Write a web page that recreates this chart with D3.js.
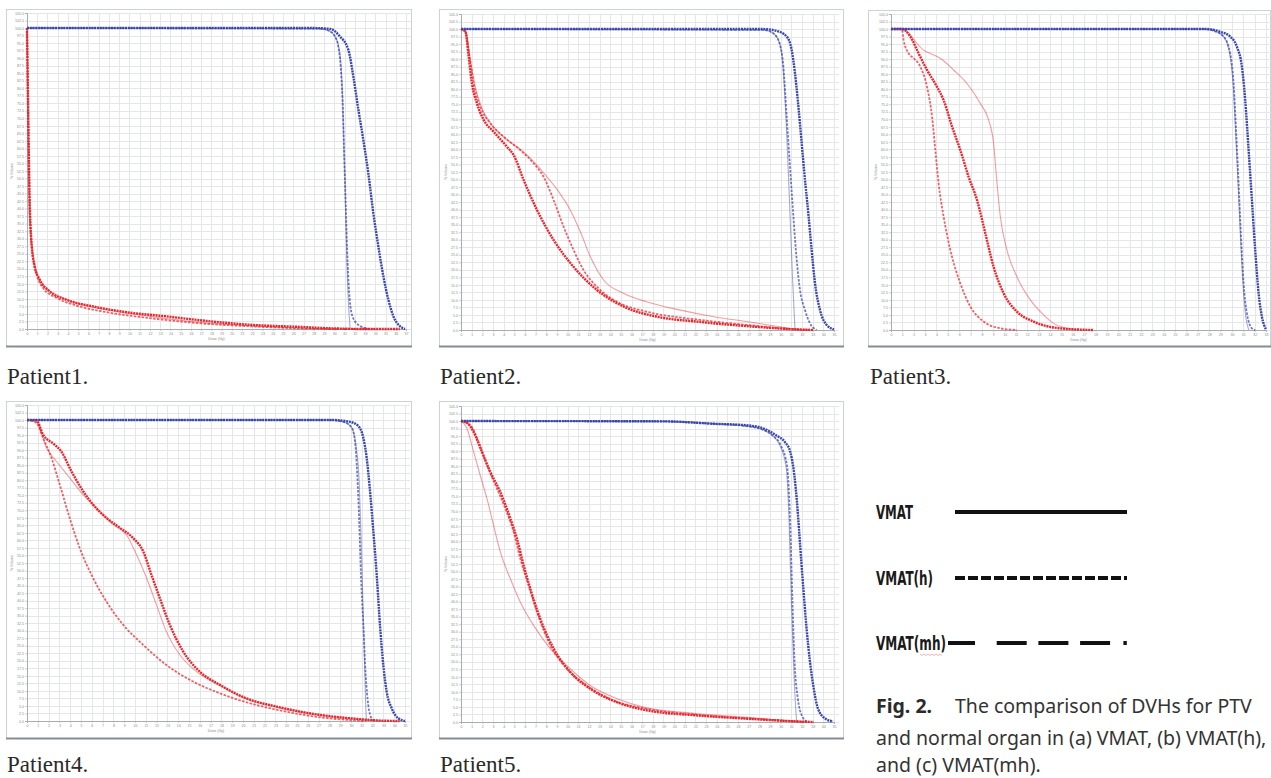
<!DOCTYPE html>
<html>
<head>
<meta charset="utf-8">
<script src="https://cdn.jsdelivr.net/npm/d3@7"></script>
<style>
  body { margin: 0; background: #fff; }
</style>
</head>
<body>
<script>
// DVH comparison, five patients: dose (Gy) vs % volume for PTV (blue) and normal organ (red)
var patients = ["Patient1.", "Patient2.", "Patient3.", "Patient4.", "Patient5."];
var doseMax = [37, 35, 33, 35, 35];
var plans = ["VMAT", "VMAT(h)", "VMAT(mh)"];
var yTicks = d3.range(0, 105.1, 2.5);

// patient 1
var p1PtvVmat = [[0,100],[28,100],[29.6,99.7],[30.55,97.2],[31.37,92.8],[31.86,83.9],[32.35,72.9],[32.83,62.9],[33.32,51.8],[33.81,38.5],[34.3,27.5],[34.79,17.5],[35.28,9.7],[35.77,4.2],[36.42,0.9],[36.9,0]];
var p1PtvH = [[0,100],[28.6,99.8],[29.58,98.9],[30.07,97.2],[30.39,93.9],[30.62,87.3],[30.8,76.2],[30.95,59.6],[31.1,43],[31.3,22],[31.5,10],[31.8,4],[32.5,1],[33.5,0]];
var p1PtvMh = [[0,100],[28.6,99.8],[29.58,98.9],[30.07,97.2],[30.42,93.9],[30.66,87.3],[30.82,76.2],[30.95,59.6],[31.08,43],[31.24,20.8],[31.4,7.5],[31.55,0]];
var p1OarVmat = [[0,100],[0.1,76.2],[0.26,43],[0.42,29.7],[0.75,20.8],[1.24,16.4],[2.21,12.5],[3.84,9.7],[6.45,7.5],[10.36,5.3],[13.6,4.2],[16.9,2.9],[21.8,1.4],[26.6,0.7],[29.9,0.2],[33.2,0],[36.4,0]];
var p1OarH = [[0,100],[0.1,73],[0.26,38],[0.5,26],[0.95,18],[1.6,13.5],[2.9,10.3],[4.8,7.8],[7.75,5.6],[12,3.6],[16.9,1.9],[21.8,0.9],[26.6,0.2],[30,0],[34,0]];
var p1OarMh = [[0,100],[0.1,74],[0.26,39.6],[0.49,27.5],[0.91,19.2],[1.56,14.7],[2.87,11.4],[4.82,8.6],[7.75,6.4],[12,4.2],[16.9,2.2],[21.8,1.1],[26.6,0.3],[29.9,0]];

// patient 2
var p2PtvVmat = [[0,100],[28.4,100],[29.6,99.4],[30.56,97.5],[31.03,93],[31.34,85.3],[31.66,74.2],[31.97,62],[32.28,49.8],[32.59,38.8],[32.9,26.6],[33.22,15.5],[33.69,6.6],[34.31,1.7],[35,0.2]];
var p2PtvH = [[0,100],[28.4,99.7],[29.3,98.6],[29.9,95.2],[30.25,87.5],[30.56,70.9],[30.87,54.3],[31.19,37.7],[31.5,23.3],[31.81,13.3],[32.28,6.6],[32.75,2.2],[33.37,0]];
var p2PtvMh = [[0,100],[28.4,99.7],[29.3,98.6],[29.9,95.2],[30.2,88],[30.5,70],[30.8,45],[31.1,18],[31.34,0]];
var p2OarVmat = [[0,100],[0.41,99.1],[0.72,90.8],[1.03,81.9],[1.5,75.3],[2.13,69.8],[3.06,65.9],[4.31,60.9],[4.94,58.1],[5.88,49.8],[7.13,39.9],[8.69,29.9],[10.56,21],[12.75,13.3],[15.25,7.8],[18.4,4.4],[22.1,2.8],[26.8,1.3],[31.5,0.2],[33.1,0]];
var p2OarH = [[0,100],[0.41,99.3],[0.81,90.8],[1.19,81.9],[1.81,74.2],[2.75,68.7],[4,64.2],[5.56,59.8],[6.81,55.4],[7.75,50.9],[8.69,43.2],[9.63,34.3],[10.56,26.6],[11.5,19.9],[12.75,14.4],[14.63,9.4],[17.4,6.1],[22.1,3.5],[26.8,1.7],[31.5,0.2],[32.75,0]];
var p2OarMh = [[0,100],[0.41,99.3],[0.88,89.7],[1.34,80.8],[1.97,73.6],[2.91,68.1],[4.16,63.7],[5.72,59.6],[6.97,55.4],[8.06,50.9],[9.16,46],[10.25,39.9],[11.19,32.7],[12.13,24.4],[13.38,16.6],[15.25,12.2],[17.4,9.4],[20.6,6.6],[23.7,4.4],[26.8,2.8],[29.9,1.1],[31.5,0.2],[32.1,0]];

// patient 3
var p3PtvVmat = [[0,100],[27.8,100],[28.97,99.1],[29.85,97.5],[30.44,94.1],[30.88,87.5],[31.17,76.4],[31.47,59.8],[31.76,43.2],[32.05,26.6],[32.35,12.2],[32.64,4.4],[33,0.2]];
var p3PtvH = [[0,100],[27.5,100],[28.39,99.4],[29.27,97.5],[29.85,91.9],[30.15,81.9],[30.38,65.3],[30.59,48.7],[30.79,32.1],[31.03,15.5],[31.32,5.5],[31.76,0.55],[32.05,0]];
var p3PtvMh = [[0,100],[27.5,100],[28.39,99.4],[29.27,97.5],[29.8,91.9],[30.1,81.9],[30.33,65.3],[30.54,48.7],[30.74,32.1],[30.97,15.5],[31.2,5],[31.5,0]];
var p3OarVmat = [[0,100],[0.97,100],[1.7,97.5],[2.43,91.9],[3.17,86.4],[4.05,80.8],[4.63,76.4],[5.37,67.6],[6.1,59.8],[6.83,50.9],[7.57,43.2],[8.3,32.1],[9.03,21],[9.91,12.2],[11.08,6.1],[12.55,2.8],[14.9,0.55],[17.8,0]];
var p3OarH = [[0,100],[0.8,100],[0.97,99.7],[1.11,96.3],[1.55,91.9],[2,90.3],[2.58,87.5],[3.17,80.8],[3.61,70.9],[3.9,59.8],[4.19,48.7],[4.63,37.7],[5.22,26.6],[6.1,15.5],[6.98,7.8],[8.15,2.8],[9.62,0.55],[11.1,0]];
var p3OarMh = [[0,100],[0.97,100],[1.7,98.1],[2.29,95.2],[2.87,93],[3.46,91.9],[4.34,90.3],[5.51,86.4],[6.69,81.9],[7.86,75.3],[8.59,69.8],[9.03,62],[9.33,48.7],[9.62,37.7],[10.2,26.6],[11.08,17.7],[12.26,10],[13.43,5],[14.3,2.2],[15.5,0.55],[16.4,0]];

// patient 4
var p4PtvVmat = [[0,100],[28.36,100],[29.9,99.4],[30.68,98],[31.14,94.1],[31.45,87.5],[31.76,76.4],[32.07,63],[32.38,48.6],[32.68,32],[32.99,18.6],[33.3,9.8],[33.77,4.2],[34.38,0.9],[35,0]];
var p4PtvH = [[0,100],[28,100],[29.29,99.4],[30.06,97.5],[30.37,93],[30.58,81.9],[30.77,65.3],[30.92,48.6],[31.14,32],[31.36,15.3],[31.6,5.3],[31.91,0.9],[32.22,0]];
var p4PtvMh = [[0,100],[28,100],[29.29,99.4],[30.06,97.5],[30.4,93],[30.75,80],[30.95,60],[31.1,40],[31.25,20],[31.4,2],[31.45,0]];
var p4OarVmat = [[0,100],[0.86,99.9],[1.48,95.2],[2.53,91.9],[3.15,89.7],[4.11,83],[5.19,76.4],[6.12,71.9],[7.35,67.5],[8.59,64.2],[9.82,60.8],[10.75,56.4],[11.52,48.6],[12.3,40.8],[13.22,32],[14.46,23.1],[16,16.4],[17.86,12],[20.33,7.5],[23.1,4.8],[26.8,2.2],[29.9,0.9],[33,0.1],[34.5,0]];
var p4OarH = [[0,100],[0.86,99.1],[1.48,94.1],[2.26,87.5],[3.03,78.6],[3.95,67.5],[4.88,57.5],[6.12,47.5],[7.35,39.7],[8.9,32],[10.75,25.3],[12.91,18.6],[15.38,13.1],[17.86,9.2],[20.64,5.9],[23.73,3.3],[26.8,1.4],[29.9,0.3],[31.4,0]];
var p4OarMh = [[0,100],[0.86,99.7],[1.79,90.8],[2.72,86.3],[3.95,80.8],[5.19,75.2],[6.43,70.8],[7.97,65.3],[9.2,61.9],[10.14,55.3],[11.07,47.5],[11.99,38.6],[12.91,29.7],[14.15,22],[15.69,16.4],[17.86,11.8],[20.33,7.3],[23.1,4.6],[26.8,2.1],[29.9,0.8],[33,0]];

// patient 5
var p5PtvVmat = [[0,100],[19,99.9],[23.7,99.1],[26.8,98.6],[28.4,97.5],[29.6,95.2],[30.4,93],[30.9,89.7],[31.2,84.2],[31.5,74.2],[31.8,59.8],[32.1,45.4],[32.4,32.1],[32.75,19.9],[33.1,11.1],[33.5,4.4],[34.2,1.1],[34.9,0.2]];
var p5PtvH = [[0,100],[19,99.9],[23.7,99.1],[26.8,98.3],[28.4,97],[29.3,95],[30,92],[30.6,85],[30.9,65],[31.1,40],[31.3,20],[31.6,8],[32,2],[32.5,0]];
var p5PtvMh = [[0,100],[19,99.9],[23.7,99.1],[26.8,98.3],[28.4,97],[29.3,95],[29.9,92],[30.5,85],[30.8,65],[31,40],[31.2,20],[31.4,5],[31.5,0]];
var p5OarVmat = [[0,100],[0.56,99.4],[1.19,96.3],[1.97,89.7],[2.75,83.1],[3.69,76.4],[4.63,67.6],[5.25,60.9],[5.88,52],[6.5,44.3],[7.44,34.3],[8.69,24.4],[10.25,16.6],[12.1,11.1],[14.6,6.6],[17.4,3.9],[22.1,2.2],[26.8,1.1],[31.5,0.2],[33.1,0]];
var p5OarH = [[0,100],[0.875,98.6],[1.66,93],[2.44,85.3],[3.38,77.5],[4.16,70.9],[4.94,63.1],[5.56,54.3],[6.34,45.4],[7.13,36.5],[8.38,25.5],[9.94,17.7],[11.8,12.2],[14.3,7.2],[17.4,4.4],[22.1,2.4],[28.4,0.9],[32.1,0]];
var p5OarMh = [[0,100],[0.56,97.5],[1.19,89.7],[1.81,81.9],[2.44,74.2],[3.06,65.3],[3.69,56.5],[4.63,47.6],[5.56,39.9],[6.81,32.1],[8.38,24.4],[10.25,17.7],[12.1,12.2],[14.6,7.8],[17.4,4.7],[22.1,2.8],[28.4,1.1],[31.5,0.2],[32.5,0]];

var ptvCurves = [
  [p1PtvVmat, p1PtvH, p1PtvMh],
  [p2PtvVmat, p2PtvH, p2PtvMh],
  [p3PtvVmat, p3PtvH, p3PtvMh],
  [p4PtvVmat, p4PtvH, p4PtvMh],
  [p5PtvVmat, p5PtvH, p5PtvMh]
];
var oarCurves = [
  [p1OarVmat, p1OarH, p1OarMh],
  [p2OarVmat, p2OarH, p2OarMh],
  [p3OarVmat, p3OarH, p3OarMh],
  [p4OarVmat, p4OarH, p4OarMh],
  [p5OarVmat, p5OarH, p5OarMh]
];

var width = 1271, height = 778;
var red = "#e8262c", blue = "#3a47a8";

// one line style per plan: heavy dotted, dashed, light thin
var planStyle = [
  {w: 2.4, dash: "2,0.8", op: 1},
  {w: 1.8, dash: "2.5,1.4", op: 0.72},
  {w: 1.1, dash: null, op: 0.45}
];

// panel frames and plot areas
var layout = [
  {bx: 6, by: 9, bw: 405, bh: 337, left: 27, right: 406, top: 13, bottom: 329, capX: 7, capY: 384},
  {bx: 439, by: 9, bw: 404, bh: 337, left: 461, right: 834, top: 14, bottom: 330, capX: 440, capY: 384},
  {bx: 868, by: 10, bw: 402, bh: 336, left: 891, right: 1266, top: 14, bottom: 330, capX: 870, capY: 384},
  {bx: 6, by: 401, bw: 405, bh: 337, left: 27, right: 405, top: 405, bottom: 721, capX: 7, capY: 772},
  {bx: 439, by: 401, bw: 404, bh: 337, left: 461, right: 834, top: 406, bottom: 722, capX: 440, capY: 772}
];

var svg = d3.select('body')
  .append('svg')
  .attr('width', width)
  .attr('height', height)
  .style('display', 'block')
  .style('font-family', 'Arial, "Liberation Sans", sans-serif');

patients.forEach(function(name, i) {
  var L = layout[i];
  var g = svg.append('g');

  // frame
  g.append('rect')
    .attr('x', L.bx + 0.5).attr('y', L.by + 0.5)
    .attr('width', L.bw).attr('height', L.bh)
    .attr('fill', '#fff')
    .attr('stroke', '#cdd2d9');
  g.append('line')
    .attr('x1', L.bx).attr('x2', L.bx + L.bw + 1)
    .attr('y1', L.by + L.bh + 0.5).attr('y2', L.by + L.bh + 0.5)
    .attr('stroke', '#858c96').attr('stroke-width', 2);

  var xScale = d3.scaleLinear().domain([0, doseMax[i]]).range([L.left, L.right]);
  var yScale = d3.scaleLinear().domain([0, 105]).range([L.bottom, L.top]);
  var xTicks = d3.range(0, doseMax[i] + 1);

  // grid
  var grid = g.append('g').attr('stroke', '#e4e6e9').attr('stroke-width', 1);
  grid.selectAll('.gx').data(xTicks).enter().append('line')
    .attr('x1', function(d) { return Math.round(xScale(d)) + 0.5; })
    .attr('x2', function(d) { return Math.round(xScale(d)) + 0.5; })
    .attr('y1', L.top).attr('y2', L.bottom);
  grid.selectAll('.gy').data(yTicks).enter().append('line')
    .attr('x1', L.left).attr('x2', L.right + 5)
    .attr('y1', function(d) { return Math.round(yScale(d)) + 0.5; })
    .attr('y2', function(d) { return Math.round(yScale(d)) + 0.5; });

  // axes
  var yAxis = d3.axisLeft(yScale).tickValues(yTicks).tickSize(2).tickPadding(1)
    .tickFormat(d3.format('.1f'));
  var yAxisNodes = g.append('g')
    .attr('transform', 'translate(' + L.left + ',0)')
    .call(yAxis);
  styleAxisNodes(yAxisNodes);

  var xAxis = d3.axisBottom(xScale).tickValues(xTicks).tickSize(2).tickPadding(1);
  var xAxisNodes = g.append('g')
    .attr('transform', 'translate(0,' + L.bottom + ')')
    .call(xAxis);
  styleAxisNodes(xAxisNodes);

  g.append('text')
    .attr('x', (L.left + L.right) / 2).attr('y', L.bottom + 11)
    .attr('text-anchor', 'middle')
    .attr('font-size', 3.6).attr('fill', '#888')
    .text('Dose (Gy)');
  g.append('text')
    .attr('transform', 'translate(' + (L.left - 14) + ',' + ((L.top + L.bottom) / 2) + ') rotate(-90)')
    .attr('text-anchor', 'middle')
    .attr('font-size', 3.6).attr('fill', '#888')
    .text('% Volume');

  var line = d3.line()
    .x(function(d) { return xScale(d[0]); })
    .y(function(d) { return yScale(d[1]); })
    .curve(d3.curveMonotoneX);

  // draw light first, heavy last
  [2, 1, 0].forEach(function(p) {
    var s = planStyle[p];
    [[oarCurves[i][p], red], [ptvCurves[i][p], blue]].forEach(function(c) {
      g.append('path')
        .attr('d', line(c[0]))
        .attr('fill', 'none')
        .attr('stroke', c[1])
        .attr('stroke-width', s.w)
        .attr('stroke-opacity', s.op)
        .attr('stroke-dasharray', s.dash);
    });
  });

  // caption under panel
  svg.append('text')
    .attr('x', L.capX).attr('y', L.capY)
    .attr('font-family', '"Liberation Serif", "DejaVu Serif", serif')
    .attr('font-size', 23)
    .attr('fill', '#2a2a2a')
    .text(name);
});

// legend of line styles
var legendY = [512, 578, 643];
var legendDash = [null, "10,3", "27,21.7,30,11.7,30,11.7,30,13.3,3.4"];
var legendX1 = [955, 955, 948];
var legendTextW = [37, 57, 70];
var legend = svg.append('g');
plans.forEach(function(p, i) {
  legend.append('text')
    .attr('x', 876).attr('y', legendY[i] + 7)
    .attr('font-family', '"Liberation Sans Narrow", "DejaVu Sans Condensed", "Liberation Sans", sans-serif')
    .attr('font-weight', 'bold')
    .attr('font-size', 19)
    .attr('textLength', legendTextW[i])
    .attr('lengthAdjust', 'spacingAndGlyphs')
    .attr('fill', '#1a1a1a')
    .text(p);
  legend.append('line')
    .attr('x1', legendX1[i]).attr('x2', 1127)
    .attr('y1', legendY[i]).attr('y2', legendY[i])
    .attr('stroke', '#111')
    .attr('stroke-width', 4)
    .attr('stroke-dasharray', legendDash[i]);
});
// spell-check squiggle under "mh"
legend.append('path')
  .attr('d', 'M920,654 l2,1.5 l2,-1.5 l2,1.5 l2,-1.5 l2,1.5 l2,-1.5 l2,1.5 l2,-1.5 l2,1.5 l2,-1.5 l2,1.5')
  .attr('fill', 'none').attr('stroke', '#e7a3a3').attr('stroke-width', 0.8);

// figure caption
var capFont = '"Noto Sans", "Open Sans", sans-serif';
var capSize = 19.5;
svg.append('text')
  .attr('x', 876).attr('y', 713)
  .attr('font-family', capFont).attr('font-weight', 'bold')
  .attr('font-size', capSize).attr('fill', '#2b2b2b')
  .text('Fig. 2.');
svg.append('text')
  .attr('x', 955).attr('y', 713)
  .attr('font-family', capFont)
  .attr('font-size', capSize).attr('fill', '#333')
  .text('The comparison of DVHs for PTV');
svg.append('text')
  .attr('x', 876).attr('y', 745)
  .attr('font-family', capFont)
  .attr('font-size', capSize).attr('fill', '#333')
  .text('and normal organ in (a) VMAT, (b) VMAT(h),');
svg.append('text')
  .attr('x', 876).attr('y', 772)
  .attr('font-family', capFont)
  .attr('font-size', capSize).attr('fill', '#333')
  .text('and (c) VMAT(mh).');

function styleAxisNodes(axisNodes) {
  axisNodes.selectAll('.domain')
    .attr('fill', 'none')
    .attr('stroke-width', 1)
    .attr('stroke', '#a9adb3');
  axisNodes.selectAll('.tick line')
    .attr('stroke-width', 0.6)
    .attr('stroke', '#a9adb3');
  axisNodes.selectAll('.tick text')
    .attr('font-size', 3.6)
    .attr('fill', '#8a8a8a');
}
</script>
</body>
</html>
